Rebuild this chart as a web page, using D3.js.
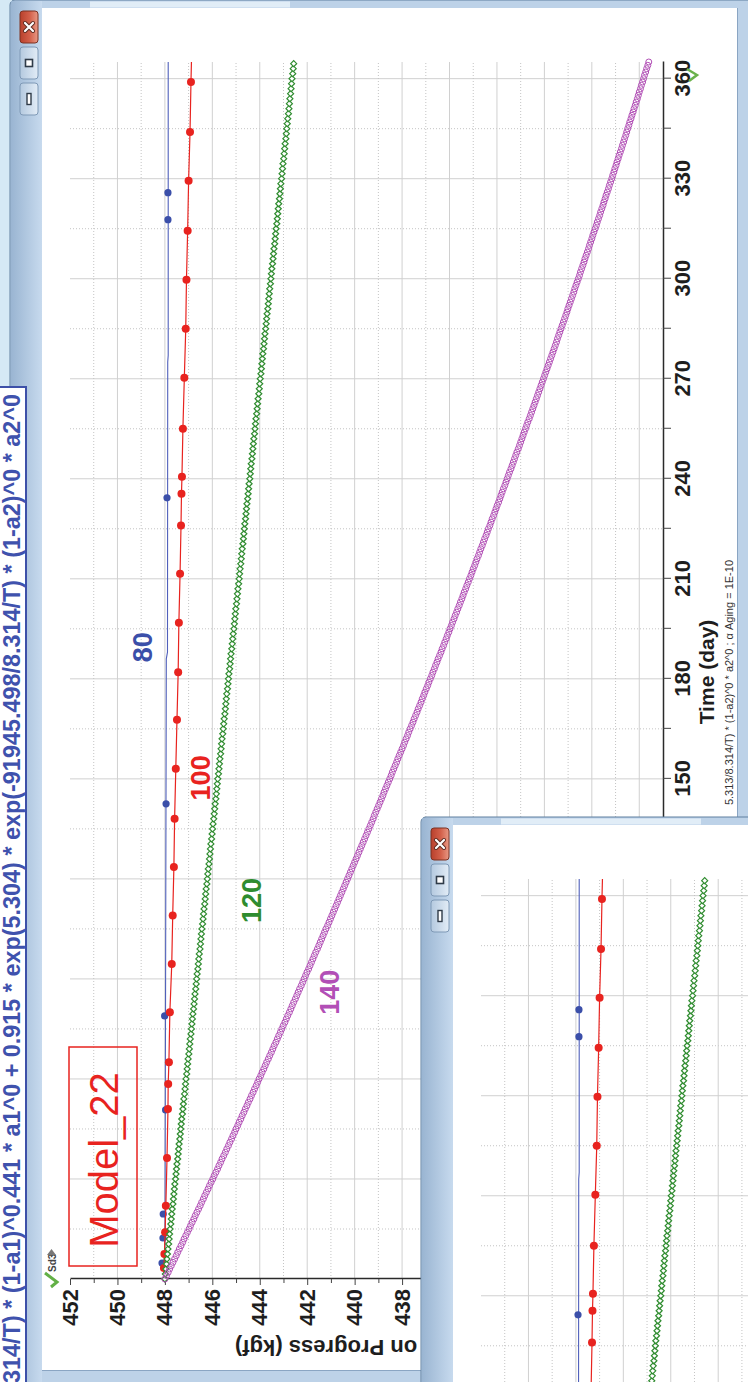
<!DOCTYPE html>
<html>
<head>
<meta charset="utf-8">
<script src="https://cdn.jsdelivr.net/npm/d3@7"></script>
<style>
  html, body { margin: 0; padding: 0; background: #d5e9f5; }
  svg { display: block; }
</style>
</head>
<body>
<svg id="shot" width="748" height="1382"></svg>
<script>
// ---------------- data ----------------
// Time axis (day) and force axis (kgf)
const dayTicks = [0, 30, 60, 90, 120, 150, 180, 210, 240, 270, 300, 330, 360];
const dayMinorTicks = [15, 45, 75, 105, 135, 165, 195, 225, 255, 285, 315, 345];
const kgfTicks = [452, 450, 448, 446, 444, 442, 440, 438, 436, 434, 432, 430, 428];
const kgfMinorTicks = [451, 449, 447, 445, 443, 441, 439, 437, 435, 433, 431, 429];
const dayDomain = [0, 365];
const kgfDomain = [427, 452];

// 80 °C: model line and measured points
const blueLineDays = [0, 90, 186, 188, 275, 277, 365];
const blueLineKgf  = [448.00, 447.97, 447.94, 447.89, 447.88, 447.86, 447.86];
const blueDotDays  = [4.8, 12.3, 19.5, 50.7, 78.9, 142.5, 234.3, 317.7, 325.8];
const blueDotKgf   = [448.12, 448.08, 448.07, 447.97, 448.01, 447.95, 447.91, 447.87, 447.87];

// 100 °C: model points (filled markers) joined by a line
const redDays = [0, 3.3, 7.5, 14, 22, 36.3, 51, 58.5, 65, 80, 94.5, 109, 123.6, 138, 153, 167.7, 182,
  196.8, 211.5, 226, 235.5, 240.6, 255, 270.3, 285, 299.7, 314.4, 329.4, 344, 359, 365];
const redKgf = [448.05, 448.04, 448.02, 447.99, 447.96, 447.91, 447.87, 447.86, 447.83, 447.79, 447.71,
  447.67, 447.62, 447.59, 447.54, 447.49, 447.44, 447.41, 447.36, 447.32, 447.30, 447.28, 447.24,
  447.18, 447.12, 447.09, 447.04, 447.00, 446.94, 446.90, 446.88];
const redMarked = [false, true, true, true, true, true, true, true, true, true, true, true, true, true,
  true, true, true, true, true, true, true, true, true, true, true, true, true, true, true, true, false];

// 120 °C: model curve, one value every 1.5 days from day 0
const greenStepDays = 1.5;
const greenKgf = [
  448.00,447.98,447.96,447.93,447.91,447.89,447.87,447.84,447.82,447.80,447.78,447.75,447.73,447.71,447.69,447.66,447.64,447.62,447.60,447.58,
  447.55,447.53,447.51,447.49,447.46,447.44,447.42,447.40,447.37,447.35,447.33,447.31,447.29,447.26,447.24,447.22,447.20,447.17,447.15,447.13,
  447.11,447.08,447.06,447.04,447.02,446.99,446.97,446.95,446.93,446.90,446.88,446.86,446.84,446.82,446.79,446.77,446.75,446.73,446.70,446.68,
  446.66,446.64,446.61,446.59,446.57,446.55,446.52,446.50,446.48,446.46,446.44,446.41,446.39,446.37,446.35,446.32,446.30,446.28,446.26,446.23,
  446.21,446.19,446.17,446.14,446.12,446.10,446.08,446.06,446.03,446.01,445.99,445.97,445.94,445.92,445.90,445.88,445.85,445.83,445.81,445.79,
  445.77,445.74,445.72,445.70,445.68,445.65,445.63,445.61,445.59,445.56,445.54,445.52,445.50,445.47,445.45,445.43,445.41,445.39,445.36,445.34,
  445.32,445.30,445.27,445.25,445.23,445.21,445.18,445.16,445.14,445.12,445.09,445.07,445.05,445.03,445.01,444.98,444.96,444.94,444.92,444.89,
  444.87,444.85,444.83,444.80,444.78,444.76,444.74,444.71,444.69,444.67,444.65,444.63,444.60,444.58,444.56,444.54,444.51,444.49,444.47,444.45,
  444.42,444.40,444.38,444.36,444.33,444.31,444.29,444.27,444.25,444.22,444.20,444.18,444.16,444.13,444.11,444.09,444.07,444.04,444.02,444.00,
  443.98,443.95,443.93,443.91,443.89,443.87,443.84,443.82,443.80,443.78,443.75,443.73,443.71,443.69,443.66,443.64,443.62,443.60,443.58,443.55,
  443.53,443.51,443.49,443.46,443.44,443.42,443.40,443.37,443.35,443.33,443.31,443.28,443.26,443.24,443.22,443.20,443.17,443.15,443.13,443.11,
  443.08,443.06,443.04,443.02,442.99,442.97,442.95,442.93,442.90,442.88,442.86,442.84,442.82,442.79,442.77,442.75,442.73,442.70,442.68,442.66,
  442.64,442.61,442.59,442.57
];

// 140 °C: model curve, one value per day from day 0
const purpleStepDays = 1;
const purpleKgf = [
  448.00,447.93,447.86,447.80,447.73,447.66,447.59,447.52,447.46,447.39,
  447.32,447.25,447.19,447.12,447.05,446.98,446.92,446.85,446.78,446.72,
  446.65,446.58,446.51,446.45,446.38,446.32,446.25,446.18,446.12,446.05,
  445.98,445.92,445.85,445.78,445.72,445.65,445.59,445.52,445.45,445.39,
  445.32,445.26,445.19,445.13,445.06,445.00,444.93,444.87,444.80,444.74,
  444.67,444.61,444.54,444.48,444.41,444.35,444.28,444.22,444.15,444.09,
  444.03,443.96,443.90,443.83,443.77,443.71,443.64,443.58,443.51,443.45,
  443.39,443.32,443.26,443.20,443.13,443.07,443.01,442.94,442.88,442.82,
  442.75,442.69,442.63,442.57,442.50,442.44,442.38,442.32,442.25,442.19,
  442.13,442.07,442.01,441.94,441.88,441.82,441.76,441.70,441.64,441.57,
  441.51,441.45,441.39,441.33,441.27,441.21,441.14,441.08,441.02,440.96,
  440.90,440.84,440.78,440.72,440.66,440.60,440.54,440.48,440.42,440.36,
  440.30,440.24,440.18,440.12,440.06,440.00,439.94,439.88,439.82,439.76,
  439.70,439.64,439.58,439.52,439.46,439.40,439.34,439.28,439.22,439.17,
  439.11,439.05,438.99,438.93,438.87,438.81,438.76,438.70,438.64,438.58,
  438.52,438.46,438.41,438.35,438.29,438.23,438.18,438.12,438.06,438.00,
  437.94,437.89,437.83,437.77,437.72,437.66,437.60,437.54,437.49,437.43,
  437.37,437.32,437.26,437.20,437.15,437.09,437.04,436.98,436.92,436.87,
  436.81,436.75,436.70,436.64,436.59,436.53,436.48,436.42,436.36,436.31,
  436.25,436.20,436.14,436.09,436.03,435.98,435.92,435.87,435.81,435.76,
  435.70,435.65,435.59,435.54,435.48,435.43,435.38,435.32,435.27,435.21,
  435.16,435.10,435.05,435.00,434.94,434.89,434.84,434.78,434.73,434.68,
  434.62,434.57,434.52,434.46,434.41,434.36,434.30,434.25,434.20,434.14,
  434.09,434.04,433.99,433.93,433.88,433.83,433.78,433.73,433.67,433.62,
  433.57,433.52,433.47,433.41,433.36,433.31,433.26,433.21,433.16,433.10,
  433.05,433.00,432.95,432.90,432.85,432.80,432.75,432.70,432.64,432.59,
  432.54,432.49,432.44,432.39,432.34,432.29,432.24,432.19,432.14,432.09,
  432.04,431.99,431.94,431.89,431.84,431.79,431.74,431.69,431.64,431.59,
  431.54,431.49,431.45,431.40,431.35,431.30,431.25,431.20,431.15,431.10,
  431.05,431.01,430.96,430.91,430.86,430.81,430.76,430.72,430.67,430.62,
  430.57,430.52,430.48,430.43,430.38,430.33,430.29,430.24,430.19,430.14,
  430.10,430.05,430.00,429.96,429.91,429.86,429.81,429.77,429.72,429.67,
  429.63,429.58,429.53,429.49,429.44,429.40,429.35,429.30,429.26,429.21,
  429.16,429.12,429.07,429.03,428.98,428.94,428.89,428.85,428.80,428.75,
  428.71,428.66,428.62,428.57,428.53,428.49,428.44,428.40,428.35,428.31,
  428.26,428.22,428.17,428.13,428.08,428.04,428.00,427.95,427.91,427.86,
  427.82,427.78,427.73,427.69,427.64,427.60
];

// Curve labels (temperature, °C) and where they sit: [day, kgf]
const curveLabels = ["80", "100", "120", "140"];
const curveLabelAt = [[189.5, 448.54], [150.3, 446.10], [113.5, 443.95], [86.0, 440.66]];
const modelName = "Model_22";
const formulaText = "314/T) * (1-a1)^0.441 * a1^0 + 0.915 * exp(5.304) * exp(-91945.498/8.314/T) * (1-a2)^0 * a2^0";
const subTitle = "5.313/8.314/T) * (1-a2)^0 * a2^0 ; \u03b1 Aging = 1E-10";
const xTitle = "Time (day)";
const yTitle = "on Progress (kgf)";

// ---------------- drawing ----------------
const FONT = "'Liberation Sans', Arial, sans-serif";
const COLORS = { blue: "#3b4fa9", red: "#e8231f", green: "#2f8c2f", purple: "#b24fb6" };

const svg = d3.select("#shot");
const defs = svg.append("defs");

const tg = defs.append("linearGradient").attr("id", "titleGrad").attr("x1", 0).attr("x2", 1).attr("y1", 0).attr("y2", 0);
tg.append("stop").attr("offset", "0%").attr("stop-color", "#9ab5d2");
tg.append("stop").attr("offset", "100%").attr("stop-color", "#c7daee");
const cg = defs.append("linearGradient").attr("id", "closeGrad").attr("x1", 0).attr("x2", 1).attr("y1", 0).attr("y2", 0);
cg.append("stop").attr("offset", "0%").attr("stop-color", "#b8402c");
cg.append("stop").attr("offset", "55%").attr("stop-color", "#d4614b");
cg.append("stop").attr("offset", "100%").attr("stop-color", "#e89a86");
const bg = defs.append("linearGradient").attr("id", "btnGrad").attr("x1", 0).attr("x2", 1).attr("y1", 0).attr("y2", 0);
bg.append("stop").attr("offset", "0%").attr("stop-color", "#b4c9df");
bg.append("stop").attr("offset", "100%").attr("stop-color", "#e2ecf6");

// page background
svg.append("rect").attr("width", 748).attr("height", 1382).attr("fill", "#d5e9f5");

// chart scales in the window's own (upright) frame; the window is shown turned a quarter left
const x = d3.scaleLinear().domain(dayDomain).range([103, 1320]);
const y = d3.scaleLinear().domain(kgfDomain).range([663, 70]);

function drawChart(g, withText) {
  // grid
  const grid = g.append("g");
  dayMinorTicks.concat(dayTicks.slice(1)).forEach(d => {
    const major = d % 30 === 0;
    grid.append("line").attr("x1", x(d)).attr("x2", x(d)).attr("y1", y(kgfDomain[1])).attr("y2", y(kgfDomain[0]))
      .attr("stroke", major ? "#d0d0d0" : "#c4c4c4").attr("stroke-width", 1)
      .attr("stroke-dasharray", major ? null : "1,2");
  });
  kgfTicks.slice(1).concat(kgfMinorTicks).forEach(v => {
    const major = v % 2 === 0;
    grid.append("line").attr("x1", x(dayDomain[0])).attr("x2", x(dayDomain[1])).attr("y1", y(v)).attr("y2", y(v))
      .attr("stroke", major ? "#d0d0d0" : "#c4c4c4").attr("stroke-width", 1)
      .attr("stroke-dasharray", major ? null : "1,2");
  });

  // axes
  const fmt = withText ? d3.format("d") : () => "";
  const ax = g.append("g").attr("transform", `translate(0,${y(kgfDomain[0])})`)
    .call(d3.axisBottom(x).tickValues(dayTicks).tickSize(8).tickSizeOuter(0).tickPadding(3).tickFormat(fmt));
  g.append("g").attr("transform", `translate(0,${y(kgfDomain[0])})`)
    .call(d3.axisBottom(x).tickValues(dayMinorTicks).tickSize(8).tickSizeOuter(0).tickFormat(""))
    .select(".domain").remove();
  const ay = g.append("g").attr("transform", `translate(${x(0)},0)`)
    .call(d3.axisLeft(y).tickValues(kgfTicks).tickSize(6).tickSizeOuter(0).tickPadding(4).tickFormat(fmt));
  g.append("g").attr("transform", `translate(${x(0)},0)`)
    .call(d3.axisLeft(y).tickValues(kgfMinorTicks).tickSize(4).tickSizeOuter(0).tickFormat(""))
    .select(".domain").remove();
  [ax, ay].forEach(a => {
    a.select(".domain").attr("stroke", "#2a2a2a").attr("stroke-width", 1.5);
    a.selectAll("text").attr("font-family", FONT).attr("font-size", 22).attr("font-weight", "bold").attr("fill", "#1e1e1e");
  });
  if (!withText) g.selectAll(".tick text").remove();
  g.selectAll(".tick line").attr("stroke", "#444");

  // axis titles
  if (withText) {
    g.append("text").attr("x", 710).attr("y", 714).attr("text-anchor", "middle")
      .attr("font-family", FONT).attr("font-size", 21).attr("font-weight", "bold").attr("fill", "#1e1e1e").text(xTitle);
    g.append("text").attr("x", 822).attr("y", 733).attr("text-anchor", "end")
      .attr("font-family", FONT).attr("font-size", 11).attr("fill", "#333").text(subTitle);
    g.append("text").attr("transform", "translate(42,235) rotate(-90)").attr("text-anchor", "end")
      .attr("font-family", FONT).attr("font-size", 22).attr("font-weight", "bold").attr("fill", "#1e1e1e").text(yTitle);
  }

  const line = d3.line().x(d => x(d[0])).y(d => y(d[1]));

  // 80 °C
  g.append("path").datum(blueLineDays.map((d, i) => [d, blueLineKgf[i]]))
    .attr("d", line).attr("fill", "none").attr("stroke", "#5060bb").attr("stroke-width", 1.1);
  g.append("g").selectAll("circle").data(blueDotDays.map((d, i) => [d, blueDotKgf[i]])).join("circle")
    .attr("cx", d => x(d[0])).attr("cy", d => y(d[1])).attr("r", 3.6).attr("fill", COLORS.blue);

  // 100 °C
  const redPts = redDays.map((d, i) => [d, redKgf[i], redMarked[i]]);
  g.append("path").datum(redPts).attr("d", line).attr("fill", "none").attr("stroke", COLORS.red).attr("stroke-width", 1.2);
  g.append("g").selectAll("circle").data(redPts.filter(d => d[2])).join("circle")
    .attr("cx", d => x(d[0])).attr("cy", d => y(d[1])).attr("r", 4).attr("fill", COLORS.red);

  // 120 °C
  g.append("g").selectAll("path").data(greenKgf.map((v, i) => [i * greenStepDays, v])).join("path")
    .attr("transform", d => `translate(${x(d[0])},${y(d[1])})`)
    .attr("d", "M-3,0L0,-3L3,0L0,3Z").attr("fill", "#fff").attr("stroke", COLORS.green).attr("stroke-width", 1.2);

  // 140 °C
  g.append("g").selectAll("circle").data(purpleKgf.map((v, i) => [i * purpleStepDays, v])).join("circle")
    .attr("cx", d => x(d[0])).attr("cy", d => y(d[1])).attr("r", 3).attr("fill", "none")
    .attr("stroke", COLORS.purple).attr("stroke-width", 1);

  if (!withText) return;

  // curve labels
  const labelColors = [COLORS.blue, COLORS.red, COLORS.green, COLORS.purple];
  curveLabels.forEach((t, i) => {
    g.append("text").attr("x", x(curveLabelAt[i][0])).attr("y", y(curveLabelAt[i][1]))
      .attr("text-anchor", "middle").attr("font-family", FONT).attr("font-size", 27).attr("font-weight", "bold")
      .attr("fill", labelColors[i]).text(t);
  });

  // model name box
  g.append("rect").attr("x", 116).attr("y", 69).attr("width", 219).attr("height", 68)
    .attr("fill", "none").attr("stroke", COLORS.red).attr("stroke-width", 1.5);
  g.append("text").attr("x", 222).attr("y", 118).attr("text-anchor", "middle")
    .attr("font-family", FONT).attr("font-size", 40).attr("fill", COLORS.red).text(modelName);

  // small view-mode widget at the axis corner
  g.append("path").attr("d", "M95,51L100,57L109,45").attr("fill", "none").attr("stroke", "#62b046").attr("stroke-width", 3);
  g.append("text").attr("x", 110).attr("y", 56).attr("font-family", FONT).attr("font-size", 10).attr("font-weight", "bold")
    .attr("fill", "#444").text("Sd3");
  g.append("path").attr("d", "M127,47L133,51.5L127,56Z").attr("fill", "#777");
  // scroll marker at the end of the time axis
  g.append("path").attr("d", "M1313,687L1307,697L1301,689").attr("fill", "none").attr("stroke", "#6ab24c").attr("stroke-width", 2.5);
}

function drawWindow(ox, oy, isMain) {
  const w = svg.append("g").attr("transform", `translate(${ox},${oy})`);
  // frame
  w.append("rect").attr("x", 10).attr("y", 0).attr("width", 780).attr("height", 1420).attr("rx", 5)
    .attr("fill", "#bdd2e8").attr("stroke", "#5f7f9f").attr("stroke-width", 1);
  w.append("rect").attr("x", 11).attr("y", 1).attr("width", 31).attr("height", 1418).attr("fill", "url(#titleGrad)");
  w.append("rect").attr("x", 90).attr("y", 1.5).attr("width", 200).attr("height", 6).attr("fill", "#eef5fc").attr("opacity", 0.75);
  // client area
  w.append("rect").attr("x", 42).attr("y", 8).attr("width", 695).attr("height", 1362).attr("fill", "#fff");
  w.append("line").attr("x1", 737.5).attr("x2", 737.5).attr("y1", 8).attr("y2", 1370).attr("stroke", "#8aa5c3");
  w.append("line").attr("x1", 42).attr("x2", 737).attr("y1", 1370.5).attr("y2", 1370.5).attr("stroke", "#8aa5c3");

  // caption buttons
  w.append("rect").attr("x", 20).attr("y", 11).attr("width", 18).attr("height", 32).attr("rx", 3)
    .attr("fill", "url(#closeGrad)").attr("stroke", "#7d3223");
  w.append("path").attr("d", "M25,23L33,31M33,23L25,31").attr("stroke", "#5a2a20").attr("stroke-width", 4).attr("stroke-linecap", "round");
  w.append("path").attr("d", "M25,23L33,31M33,23L25,31").attr("stroke", "#fff").attr("stroke-width", 2.2).attr("stroke-linecap", "round");
  w.append("rect").attr("x", 20).attr("y", 47).attr("width", 18).attr("height", 32).attr("rx", 3)
    .attr("fill", "url(#btnGrad)").attr("stroke", "#7f99b6");
  w.append("rect").attr("x", 25.5).attr("y", 59.5).attr("width", 7).attr("height", 7)
    .attr("fill", "#fff").attr("stroke", "#2f3b48").attr("stroke-width", 1.6);
  w.append("rect").attr("x", 20).attr("y", 83).attr("width", 18).attr("height", 32).attr("rx", 3)
    .attr("fill", "url(#btnGrad)").attr("stroke", "#7f99b6");
  w.append("rect").attr("x", 27).attr("y", 93.5).attr("width", 4).attr("height", 11)
    .attr("fill", "#fff").attr("stroke", "#2f3b48").attr("stroke-width", 1.4);

  const chart = w.append("g").attr("transform", "translate(0,1382) rotate(-90)");
  drawChart(chart, isMain);
  return w;
}

// main window
drawWindow(0, 0, true);

// kinetic expression panel laid over the main window's edge
const fb = svg.append("g");
fb.append("rect").attr("x", -3).attr("y", 387).attr("width", 29).attr("height", 1010)
  .attr("fill", "#fff").attr("stroke", "#3d50a8").attr("stroke-width", 2);
fb.append("g").attr("transform", "translate(0,1382) rotate(-90)")
  .append("text").attr("x", 988).attr("y", 20).attr("text-anchor", "end")
  .attr("font-family", FONT).attr("font-size", 23.4).attr("font-weight", "bold").attr("fill", "#3f52ad")
  .text(formulaText);

// second, cascaded copy of the chart window
drawWindow(411, 817, false);
</script>
</body>
</html>
